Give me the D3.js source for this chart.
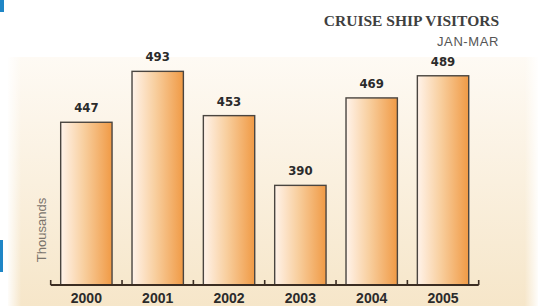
<!DOCTYPE html>
<html>
<head>
<meta charset="utf-8">
<script src="https://cdn.jsdelivr.net/npm/d3@7"></script>
<style>
  html, body { margin: 0; padding: 0; background: #fff; }
  svg { display: block; }
</style>
</head>
<body>
<div id="chart"></div>
<script>
// chart data
const years = ["2000", "2001", "2002", "2003", "2004", "2005"];
const visitors = [447, 493, 453, 390, 469, 489];
const title = "CRUISE SHIP VISITORS";
const subtitle = "JAN-MAR";
const yLabel = "Thousands";

const width = 547, height = 306;

const svg = d3.select("#chart")
  .append("svg")
  .attr("width", width)
  .attr("height", height);

const defs = svg.append("defs");

// panel background, white at top fading to cream
const bgGrad = defs.append("linearGradient")
  .attr("id", "bg").attr("x1", 0).attr("y1", 0).attr("x2", 0).attr("y2", 1);
bgGrad.append("stop").attr("offset", "0%").attr("stop-color", "#fefaf4");
bgGrad.append("stop").attr("offset", "100%").attr("stop-color", "#f6e6c9");

const edgeGrad = defs.append("linearGradient")
  .attr("id", "edge").attr("x1", 0).attr("y1", 0).attr("x2", 1).attr("y2", 0);
edgeGrad.append("stop").attr("offset", "0%").attr("stop-color", "#fff").attr("stop-opacity", 0.9);
edgeGrad.append("stop").attr("offset", "2.5%").attr("stop-color", "#fff").attr("stop-opacity", 0);
edgeGrad.append("stop").attr("offset", "97.5%").attr("stop-color", "#fff").attr("stop-opacity", 0);
edgeGrad.append("stop").attr("offset", "100%").attr("stop-color", "#fff").attr("stop-opacity", 0.9);

// bar fill, pale on the left, orange on the right
const barGrad = defs.append("linearGradient")
  .attr("id", "bar").attr("x1", 0).attr("y1", 0).attr("x2", 1).attr("y2", 0);
barGrad.append("stop").attr("offset", "0%").attr("stop-color", "#fff3ea");
barGrad.append("stop").attr("offset", "45%").attr("stop-color", "#f8cf9f");
barGrad.append("stop").attr("offset", "100%").attr("stop-color", "#f09a45");

svg.append("rect")
  .attr("x", 8).attr("y", 57)
  .attr("width", 530).attr("height", height - 57)
  .attr("fill", "url(#bg)");
svg.append("rect")
  .attr("x", 8).attr("y", 57)
  .attr("width", 530).attr("height", height - 57)
  .attr("fill", "url(#edge)");

// blue page marks on the left edge
svg.append("rect").attr("x", 0).attr("y", 0).attr("width", 4).attr("height", 12).attr("fill", "#1f86c6");
svg.append("rect").attr("x", 0).attr("y", 240).attr("width", 3).attr("height", 32).attr("fill", "#1f86c6");

// titles
svg.append("text")
  .attr("x", 499).attr("y", 26)
  .attr("text-anchor", "end")
  .attr("font-family", "'Liberation Serif', 'DejaVu Serif', serif")
  .attr("font-weight", "bold")
  .attr("font-size", 15.5)
  .attr("fill", "#3f3f3f")
  .text(title);

svg.append("text")
  .attr("x", 499).attr("y", 45.5)
  .attr("text-anchor", "end")
  .attr("font-family", "'Liberation Sans', sans-serif")
  .attr("font-size", 13)
  .attr("letter-spacing", 0.6)
  .attr("fill", "#555")
  .text(subtitle);

// scales
const x = d3.scaleBand()
  .domain(years)
  .range([50.7, 478.7])
  .paddingInner(0.28)
  .paddingOuter(0.14);

const y = d3.scaleLinear()
  .domain([300, 500])
  .range([285, 63.6]);

// bars
svg.selectAll("rect.bar")
  .data(years)
  .enter()
  .append("rect")
  .attr("class", "bar")
  .attr("x", d => x(d))
  .attr("y", (d, i) => y(visitors[i]))
  .attr("width", x.bandwidth())
  .attr("height", (d, i) => y.range()[0] - y(visitors[i]))
  .attr("fill", "url(#bar)")
  .attr("stroke", "#4a4540")
  .attr("stroke-width", 1.4);

// value labels
svg.selectAll("text.val")
  .data(years)
  .enter()
  .append("text")
  .attr("class", "val")
  .attr("x", d => x(d) + x.bandwidth() / 2)
  .attr("y", (d, i) => y(visitors[i]) - 10)
  .attr("text-anchor", "middle")
  .attr("font-family", "'DejaVu Sans Condensed', 'Liberation Sans', sans-serif")
  .attr("font-weight", "bold")
  .attr("font-size", 13)
  .attr("fill", "#2b2b2b")
  .text((d, i) => visitors[i]);

// x axis: baseline with upward ticks between the bars
const axisG = svg.append("g")
  .attr("transform", "translate(0,285)");

const bounds = years.map(d => x(d) - x.step() * x.paddingInner() / 2)
  .concat([x.range()[1]]);

axisG.append("line")
  .attr("x1", x.range()[0]).attr("x2", x.range()[1])
  .attr("y1", 0).attr("y2", 0)
  .attr("stroke", "#3b2d22").attr("stroke-width", 2);

axisG.selectAll("line.tick")
  .data(bounds)
  .enter()
  .append("line")
  .attr("class", "tick")
  .attr("x1", d => d).attr("x2", d => d)
  .attr("y1", 0).attr("y2", -5)
  .attr("stroke", "#3b2d22").attr("stroke-width", 1.6);

axisG.selectAll("text.year")
  .data(years)
  .enter()
  .append("text")
  .attr("class", "year")
  .attr("x", d => x(d) + x.bandwidth() / 2)
  .attr("y", 18)
  .attr("text-anchor", "middle")
  .attr("font-family", "'Liberation Sans', 'DejaVu Sans', sans-serif")
  .attr("font-weight", "bold")
  .attr("font-size", 14)
  .attr("fill", "#2b2b2b")
  .text(d => d);

// y label
svg.append("text")
  .attr("transform", "translate(46,230) rotate(-90)")
  .attr("text-anchor", "middle")
  .attr("font-family", "'Liberation Sans', 'DejaVu Sans', sans-serif")
  .attr("font-size", 13)
  .attr("fill", "#7a746c")
  .text(yLabel);
</script>
</body>
</html>
